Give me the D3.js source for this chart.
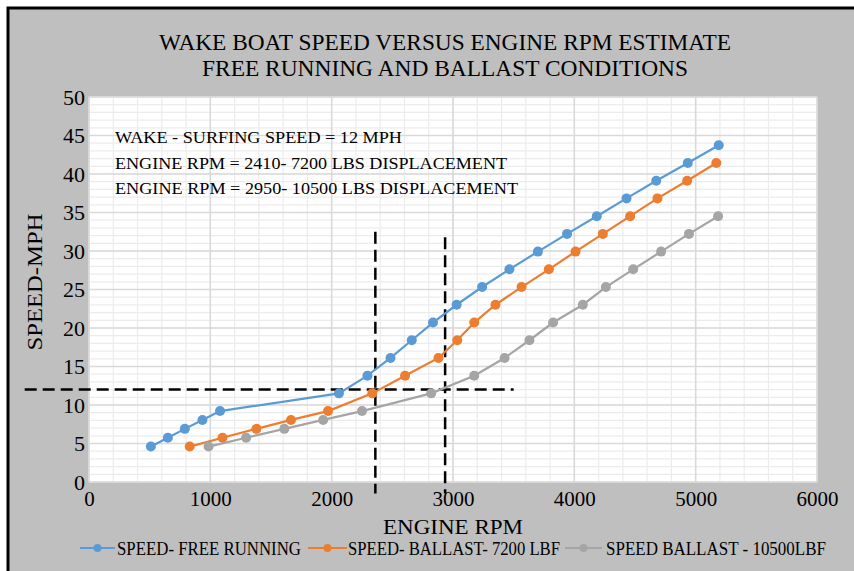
<!DOCTYPE html>
<html><head><meta charset="utf-8">
<script src="https://cdn.jsdelivr.net/npm/d3@7/dist/d3.min.js"></script>
<style>body{margin:0;background:#fff}svg{display:block}text{font-family:"Liberation Serif","Times New Roman",serif}</style>
</head><body>
<svg id="c" width="854" height="571"></svg>
<script>
const titleLines = ["WAKE BOAT SPEED VERSUS ENGINE RPM ESTIMATE", "FREE RUNNING AND BALLAST CONDITIONS"];
const notes = ["WAKE - SURFING SPEED = 12 MPH", "ENGINE RPM = 2410- 7200 LBS DISPLACEMENT", "ENGINE RPM = 2950- 10500 LBS DISPLACEMENT"];
const xTicks = [0, 1000, 2000, 3000, 4000, 5000, 6000];
const yTicks = [0, 5, 10, 15, 20, 25, 30, 35, 40, 45, 50];
const seriesNames = ["SPEED- FREE RUNNING", "SPEED- BALLAST- 7200 LBF", "SPEED BALLAST - 10500LBF"];

const freeRpm = [510, 650, 790, 935, 1080, 2060, 2295, 2485, 2660, 2835, 3030, 3240, 3465, 3700, 3940, 4185, 4430, 4675, 4935, 5190];
const freeMph = [4.6, 5.75, 6.9, 8.06, 9.21, 11.51, 13.81, 16.11, 18.41, 20.71, 23.02, 25.32, 27.62, 29.92, 32.22, 34.52, 36.83, 39.13, 41.43, 43.73];
const b7200Rpm = [830, 1100, 1380, 1665, 1970, 2335, 2605, 2880, 3035, 3175, 3350, 3565, 3790, 4010, 4235, 4460, 4685, 4930, 5170];
const b7200Mph = [4.6, 5.75, 6.9, 8.06, 9.21, 11.51, 13.81, 16.11, 18.41, 20.71, 23.02, 25.32, 27.62, 29.92, 32.22, 34.52, 36.83, 39.13, 41.43];
const b10500Rpm = [985, 1295, 1610, 1930, 2250, 2820, 3175, 3425, 3630, 3825, 4070, 4260, 4485, 4715, 4945, 5185];
const b10500Mph = [4.6, 5.75, 6.9, 8.06, 9.21, 11.51, 13.81, 16.11, 18.41, 20.71, 23.02, 25.32, 27.62, 29.92, 32.22, 34.52];

// reference (dashed) guide lines
const surfSpeed = 12;
const hGuideRpm = [-530, 3500];
const vGuide1 = {rpm: 2360, mph: [-1.5, 32.5]};
const vGuide2 = {rpm: 2935, mph: [-1.5, 31.8]};

const colors = ["#5b9bd5", "#ed7d31", "#a5a5a5"];
const serif = "Liberation Serif, Times New Roman, serif";

const svg = d3.select("#c");
svg.append("rect").attr("x",0).attr("y",0).attr("width",854).attr("height",571).attr("fill","#ffffff");
svg.append("rect").attr("x",8).attr("y",8).attr("width",852).attr("height",570)
  .attr("fill","#bfbfbf").attr("stroke","#000").attr("stroke-width",3);

const m = {l: 89, r: 817, t: 97, b: 482};
const x = d3.scaleLinear().domain([0, 6000]).range([m.l, m.r]);
const y = d3.scaleLinear().domain([0, 50]).range([m.b, m.t]);

svg.append("rect").attr("x",m.l).attr("y",m.t).attr("width",m.r-m.l).attr("height",m.b-m.t).attr("fill","#ffffff");

// minor grid
const g = svg.append("g");
g.selectAll("line.mx").data(d3.range(0, 6001, 200)).join("line")
  .attr("x1",d=>x(d)).attr("x2",d=>x(d)).attr("y1",m.t).attr("y2",m.b)
  .attr("stroke","#ececec").attr("stroke-width",1.2);
g.selectAll("line.my").data(d3.range(0, 50.1, 1)).join("line")
  .attr("y1",d=>y(d)).attr("y2",d=>y(d)).attr("x1",m.l).attr("x2",m.r)
  .attr("stroke","#ececec").attr("stroke-width",1.2);
// major grid
g.selectAll("line.Mx").data(xTicks).join("line")
  .attr("x1",d=>x(d)).attr("x2",d=>x(d)).attr("y1",m.t).attr("y2",m.b)
  .attr("stroke","#d9d9d9").attr("stroke-width",1.5);
g.selectAll("line.My").data(yTicks).join("line")
  .attr("y1",d=>y(d)).attr("y2",d=>y(d)).attr("x1",m.l).attr("x2",m.r)
  .attr("stroke","#d9d9d9").attr("stroke-width",1.5);

// axes (labels only)
const ax = svg.append("g").attr("transform",`translate(0,${m.b})`)
  .call(d3.axisBottom(x).tickValues(xTicks).tickFormat(d3.format("d")).tickSize(0).tickPadding(9));
ax.select(".domain").remove();
ax.selectAll("text").attr("font-family",serif).attr("font-size",21).attr("fill","#000");
const ay = svg.append("g").attr("transform",`translate(${m.l},0)`)
  .call(d3.axisLeft(y).tickValues(yTicks).tickSize(0).tickPadding(4));
ay.select(".domain").remove();
ay.selectAll("text").attr("font-family",serif).attr("font-size",22).attr("fill","#000");

// titles
svg.selectAll("text.title").data(titleLines).join("text")
  .attr("x",445).attr("y",(d,i)=>50+i*26).attr("text-anchor","middle")
  .attr("font-family",serif).attr("font-size",23).attr("fill","#000")
  .attr("textLength",(d,i)=>[572,486][i]).attr("lengthAdjust","spacingAndGlyphs").text(d=>d);
svg.append("text").attr("x",453).attr("y",534).attr("text-anchor","middle")
  .attr("font-family",serif).attr("font-size",21).attr("fill","#000")
  .attr("textLength",140).attr("lengthAdjust","spacingAndGlyphs").text("ENGINE RPM");
svg.append("text").attr("transform","translate(42,282) rotate(-90)").attr("text-anchor","middle")
  .attr("font-family",serif).attr("font-size",22).attr("fill","#000")
  .attr("textLength",137).attr("lengthAdjust","spacingAndGlyphs").text("SPEED-MPH");

// notes
svg.selectAll("text.note").data(notes).join("text")
  .attr("x",115).attr("y",(d,i)=>143+i*25.5)
  .attr("font-family",serif).attr("font-size",17.5).attr("fill","#000")
  .attr("textLength",(d,i)=>[287,392,403][i]).attr("lengthAdjust","spacingAndGlyphs").text(d=>d);

// series
const series = [
  {rpm: freeRpm, mph: freeMph},
  {rpm: b7200Rpm, mph: b7200Mph},
  {rpm: b10500Rpm, mph: b10500Mph}
];
const line = d3.line().x(d=>x(d[0])).y(d=>y(d[1]));

// guide lines
const dash = "12,6";
svg.append("line").attr("x1",x(hGuideRpm[0])).attr("x2",x(hGuideRpm[1]))
  .attr("y1",y(surfSpeed)).attr("y2",y(surfSpeed))
  .attr("stroke","#000").attr("stroke-width",2.5).attr("stroke-dasharray",dash);
[vGuide1, vGuide2].forEach(v=>{
  svg.append("line").attr("x1",x(v.rpm)).attr("x2",x(v.rpm))
    .attr("y1",y(v.mph[1])).attr("y2",y(v.mph[0]))
    .attr("stroke","#000").attr("stroke-width",2.5).attr("stroke-dasharray",dash);
});

series.forEach((s,i)=>{
  const pts = s.rpm.map((r,j)=>[r, s.mph[j]]);
  svg.append("path").datum(pts).attr("d",line).attr("fill","none")
    .attr("stroke",colors[i]).attr("stroke-width",2.2);
  svg.append("g").selectAll("circle").data(pts).join("circle")
    .attr("cx",d=>x(d[0])).attr("cy",d=>y(d[1])).attr("r",5)
    .attr("fill",colors[i]);
});

// legend
const legLine = [[80,115],[308,347],[565,602]];
const legText = [[117,184],[348,212],[606,220]];
const lg = svg.append("g");
seriesNames.forEach((n,i)=>{
  const [a,b] = legLine[i];
  lg.append("line").attr("x1",a).attr("x2",b).attr("y1",548).attr("y2",548)
    .attr("stroke",colors[i]).attr("stroke-width",2.2);
  lg.append("circle").attr("cx",(a+b)/2).attr("cy",548).attr("r",4).attr("fill",colors[i]);
  lg.append("text").attr("x",legText[i][0]).attr("y",555)
    .attr("font-family",serif).attr("font-size",18).attr("fill","#000")
    .attr("textLength", legText[i][1]).attr("lengthAdjust","spacingAndGlyphs").text(n);
});
</script>
</body></html>
